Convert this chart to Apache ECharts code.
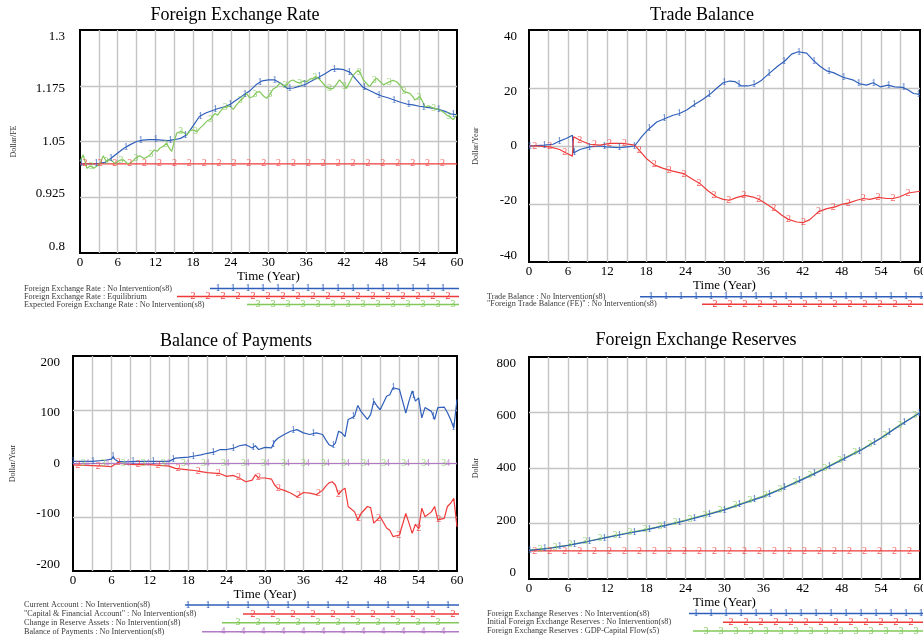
<!DOCTYPE html>
<html>
<head>
<meta charset="utf-8">
<script src="https://cdn.jsdelivr.net/npm/echarts@6/dist/echarts.min.js"></script>
<style>
html, body { margin: 0; padding: 0; background: #fff; }
#main { width: 923px; height: 640px; }
</style>
</head>
<body>
<div id="main"></div>
<script>
// ---- data ----
// Foreign Exchange Rate (Dollar/FE)
const fxYears = Array.from({length: 61}, (_, i) => i);
const fxNoIntervention = [1.000,1.000,1.000,1.001,1.003,1.013,1.024,1.035,1.043,1.050,
    1.053,1.054,1.054,1.053,1.052,1.054,1.057,1.065,1.085,1.106,
    1.114,1.119,1.124,1.128,1.134,1.144,1.154,1.163,1.177,1.186,
    1.188,1.188,1.180,1.169,1.170,1.174,1.179,1.187,1.194,1.202,
    1.211,1.213,1.211,1.205,1.188,1.172,1.165,1.158,1.152,1.148,
    1.143,1.138,1.134,1.132,1.129,1.127,1.125,1.122,1.118,1.112,1.110];
const fxEqTime = [0, 60];
const fxEquilibrium = [1.0, 1.0];
const fxExpTime = [0,0.5,1.1,1.6,2.2,3.2,3.7,4.2,4.8,5.6,6.3,6.9,7.6,8.2,8.8,9.5,10.2,10.8,11.3,11.8,
    12.3,12.7,13.3,13.8,14.2,14.6,15,15.4,16,16.5,17,17.5,18,18.6,19.1,19.5,19.9,20.3,20.7,21.1,
    21.5,21.9,22.3,22.8,23.3,23.8,24.4,24.9,25.4,26,26.5,27,27.6,28.1,28.6,29.2,29.7,30.2,30.7,31.3,
    31.8,32.4,32.9,33.4,33.9,34.5,35,35.6,36.1,36.6,37.1,37.7,38.2,38.7,39.2,39.8,40.3,40.8,41.3,41.9,
    42.4,43,43.5,43.9,44.3,44.7,45.1,45.6,46.1,46.6,47.2,47.7,48.3,48.8,49.3,49.8,50.4,51,51.5,52,
    52.5,53,53.3,53.7,54.1,54.5,54.9,55.5,56.2,56.7,57.2,57.8,58.3,58.9,59.4,59.7,60];
const fxExpected = [1.005,1.02,0.99,0.995,0.99,1.0,1.018,1.005,1.01,1.0,1.008,1.009,1.0,1.003,1.012,1.018,1.012,1.016,1.022,1.031,
    1.028,1.035,1.04,1.046,1.035,1.028,1.05,1.069,1.072,1.07,1.065,1.074,1.076,1.072,1.08,1.085,1.091,1.097,1.099,1.106,
    1.113,1.109,1.117,1.126,1.127,1.13,1.122,1.132,1.14,1.148,1.158,1.148,1.151,1.16,1.162,1.152,1.147,1.155,1.167,1.172,
    1.181,1.175,1.177,1.185,1.188,1.183,1.181,1.186,1.184,1.19,1.192,1.195,1.188,1.18,1.172,1.168,1.169,1.178,1.188,1.178,
    1.169,1.185,1.199,1.205,1.21,1.2,1.188,1.18,1.173,1.183,1.192,1.185,1.177,1.181,1.184,1.187,1.184,1.175,1.162,1.16,
    1.158,1.15,1.143,1.147,1.151,1.14,1.128,1.13,1.125,1.124,1.121,1.116,1.11,1.105,1.099,1.102,1.11];

// Trade Balance (Dollar/Year)
const tbTime = [0,2.4,3.7,4.7,5.7,6.65,6.85,7.8,9.3,10.9,11.9,13.9,15,16.2,17.3,18.3,19.6,20.9,22.1,23.1,
    24.2,25.4,26.7,27.8,28.8,29.8,30.8,31.6,32.6,33.6,34.7,35.7,37,38.2,39.3,40.3,41.3,42.6,43.6,44.6,
    45.7,46.7,48.2,49.8,50.8,51.8,52.8,53.9,55.1,56.1,57.4,58.2,59,60];
const tradeBalance = [0,0.3,0.6,1.7,2.6,3.7,-2.4,-1.2,-0.3,0,-0.3,-0.6,-0.3,0,3.2,5.7,8.3,9.5,10.6,11.2,
    12.4,14.3,16.1,17.9,19.9,21.8,22.4,22.2,20.7,20.7,21.3,22.7,25.3,27.6,29.4,31.7,32.5,32,29.6,27.6,
    25.9,25.3,23.7,22.7,21.4,21,21.8,20.4,21,20.4,20.2,19.3,18.1,17.8];
const ftbTime = [0,1.1,3.2,4.7,5.7,6.65,6.85,7.8,9.3,10.9,12.4,14.4,16.2,17,18,19.3,20.6,21.9,23.7,24.9,
    26.2,27.5,28.8,29.8,30.8,31.8,33.1,34.4,35.4,36.5,37.7,38.8,39.8,41.1,42.1,43.1,44.4,45.7,47,48,
    49.1,50.3,51.3,52.3,53.6,54.9,55.9,56.9,58.2,60];
const foreignTradeBalance = [0,0,-0.3,-1.2,-2.4,-3.5,3.2,2,0.6,0.3,0.9,0.9,0.3,-1.7,-4.3,-6.6,-7.7,-8.6,-9.5,-11.2,
    -12.9,-15.5,-17.6,-18.4,-18.7,-17.8,-17,-17.6,-18.5,-20.1,-21.9,-23.9,-25.3,-26.2,-26.4,-25.4,-22.7,-21.6,-21,-20.1,
    -19.6,-18.7,-18.1,-18.4,-17.7,-18.1,-18.1,-17.5,-16.2,-15.6];

// Balance of Payments (Dollar/Year)
const bopTime = [0,3,5,6,6.3,6.5,7,8,10,12,14,15,16,18,19,20,21,22,23,24,
    25,26,27,28,28.5,29,30,31,31.5,32,33,34,35,36,37,38,39,39.5,40,40.5,
    41,41.5,42,42.5,43,44,44.5,45,46,46.5,47,47.5,48,49,49.5,50,51,52,52.5,53,
    53.5,54,54.5,55,56,56.5,57,58,58.5,59,59.5,60];
const currentAccount = [4,4,6,8,13,8,4,3,4,4,4,4,10,12,14,16,19,21,26,26,
    28,33,35,29,33,26,30,29,41,47,54,60,63,57,54,57,54,44,35,32,
    38,60,57,50,82,88,108,97,82,91,116,107,100,125,128,141,138,94,116,135,
    116,122,85,104,97,82,104,105,95,82,66,119];
const capitalAccount = [-2.5,-4,-5,-6,-6,-2,2,-1,-2,-2,-4,-5,-9,-12,-13,-15,-17,-18,-19,-24,
    -22,-27,-34,-31,-21,-27,-27,-29,-40,-46,-50,-55,-62,-54,-55,-58,-50,-42,-36,-34,
    -40,-58,-50,-46,-80,-90,-105,-93,-80,-82,-111,-105,-99,-120,-124,-136,-133,-93,-111,-130,
    -113,-121,-83,-99,-90,-80,-105,-102,-80,-74,-65,-118];
const flatTime = [0, 15, 30, 45, 60];
const reserveChange = [0, 0, 0, 0, 0];
const balanceOfPayments = [0, 0, 0, 0, 0];

// Foreign Exchange Reserves (Dollar)
const resTime = [0,3,6,9,12,15,18,21,24,27,30,33,36,39,42,45,48,51,54,57,60];
const reservesNoInt = [103,110,121,135,150,164,177,193,210,229,249,273,297,327,359,393,429,465,507,555,599];
const reservesGdp = [104,111,122,136,151,165,179,194,212,231,251,275,300,329,361,395,431,467,509,557,600];
const initResTime = [0, 60];
const initialReserves = [101, 101];

// ---- styling ----
const FONT = "'Liberation Serif', 'Times New Roman', serif";
const BLUE = '#2f5fba', RED = '#f03a3a', GREEN = '#82c85a', PURPLE = '#b27ac6';
const GRIDLINE = '#c4c4c4';

const grids = [
    {left: 80, top: 30, width: 377, height: 223},
    {left: 529, top: 30, width: 391, height: 232},
    {left: 73, top: 356, width: 384, height: 215},
    {left: 529, top: 357, width: 391, height: 222}
];

function interp(ts, vs, t) {
    for (let i = 0; i < ts.length - 1; i++) {
        if (t <= ts[i + 1]) {
            return vs[i] + (vs[i + 1] - vs[i]) * (t - ts[i]) / (ts[i + 1] - ts[i]);
        }
    }
    return vs[vs.length - 1];
}

function yRich(n) {
    // vensim pushes the end labels inside the frame
    const rich = {};
    for (let i = 0; i < n; i++) {
        const off = 6.5 * (2 * i / (n - 1) - 1);
        rich['t' + i] = {
            fontFamily: FONT, fontSize: 13, color: '#000',
            padding: off > 0 ? [2 * off, 0, 0, 0] : [0, 0, -2 * off, 0]
        };
    }
    return rich;
}

function xAxisFor(i, nameGap) {
    return {
        type: 'value', gridIndex: i, min: 0, max: 60, interval: 3,
        name: 'Time (Year)', nameLocation: 'middle', nameGap: nameGap,
        nameTextStyle: {fontFamily: FONT, fontSize: 13, color: '#000'},
        axisLine: {show: false}, axisTick: {show: false},
        axisLabel: {
            margin: 3, fontFamily: FONT, fontSize: 13, color: '#000',
            formatter: v => (v % 6 === 0 ? String(v) : '')
        },
        splitLine: {show: true, showMinLine: false, showMaxLine: false, lineStyle: {color: GRIDLINE, width: 1.4}}
    };
}

function yAxisFor(i, min, max, interval, name, nameGap, margin) {
    return {
        type: 'value', gridIndex: i, min: min, max: max, interval: interval,
        name: name, nameLocation: 'middle', nameRotate: 90, nameGap: nameGap,
        nameTextStyle: {fontFamily: FONT, fontSize: 8, color: '#333'},
        axisLine: {show: false}, axisTick: {show: false},
        axisLabel: {
            margin: margin, rich: yRich(5),
            formatter: (v, idx) => '{t' + idx + '|' + v + '}'
        },
        splitLine: {show: true, showMinLine: false, showMaxLine: false, lineStyle: {color: GRIDLINE, width: 1.4}}
    };
}

const series = [];

function addLine(g, ts, vs, color, digit, m0, step, z) {
    z = z || 2;
    series.push({
        type: 'line', xAxisIndex: g, yAxisIndex: g,
        data: ts.map((t, i) => [t, vs[i]]),
        showSymbol: false, symbol: 'none', smooth: false,
        lineStyle: {color: color, width: 1.2},
        itemStyle: {color: color},
        silent: true, z: z
    });
    const marks = [];
    for (let t = m0; t <= 60.001; t += step) marks.push([t, interp(ts, vs, t)]);
    series.push({
        type: 'scatter', xAxisIndex: g, yAxisIndex: g, data: marks,
        symbolSize: 1, itemStyle: {color: 'rgba(0,0,0,0)'},
        label: {show: true, position: 'inside', formatter: digit, color: color, fontFamily: FONT, fontSize: 10},
        silent: true, z: z + 2
    });
}

addLine(0, fxYears, fxNoIntervention, BLUE, '1', 0.2, 2.37);
addLine(0, fxEqTime, fxEquilibrium, RED, '2', 0.8, 2.37);
addLine(0, fxExpTime, fxExpected, GREEN, '3', 1.8, 2.37);

addLine(1, tbTime, tradeBalance, BLUE, '1', 0.1, 2.296);
addLine(1, ftbTime, foreignTradeBalance, RED, '2', 0.9, 2.29);

addLine(2, bopTime, currentAccount, BLUE, '1', 0.0, 3.13);
addLine(2, bopTime, capitalAccount, RED, '2', 0.8, 3.13);
addLine(2, flatTime, reserveChange, GREEN, '3', 1.6, 3.13);
addLine(2, flatTime, balanceOfPayments, PURPLE, '4', 2.2, 3.13);

// the blue reserves curve sits over the nearly identical green one
addLine(3, resTime, reservesNoInt, BLUE, '1', 0.1, 2.3, 3);
addLine(3, initResTime, initialReserves, RED, '2', 0.87, 2.3);
addLine(3, resTime, reservesGdp, GREEN, '3', 1.7, 2.3);

// ---- titles and vensim-style legends ----
const graphics = [];
function titleText(x, y, text) {
    graphics.push({
        type: 'text', x: x, y: y, silent: true,
        style: {text: text, font: '18px ' + FONT, fill: '#000',
            align: 'center', verticalAlign: 'middle', textAlign: 'center', textVerticalAlign: 'middle'}
    });
}
titleText(235, 15, 'Foreign Exchange Rate');
titleText(702, 15, 'Trade Balance');
titleText(236, 341, 'Balance of Payments');
titleText(696, 340, 'Foreign Exchange Reserves');

function legendRows(textX, x1, step, rows) {
    rows.forEach(r => {
        graphics.push({
            type: 'text', x: textX, y: r.y, silent: true,
            style: {text: r.label, font: '8.2px ' + FONT, fill: '#3a3a3a',
                align: 'left', verticalAlign: 'middle', textAlign: 'left', textVerticalAlign: 'middle'}
        });
        graphics.push({
            type: 'line', silent: true,
            shape: {x1: r.x0, y1: r.y, x2: x1, y2: r.y},
            style: {stroke: r.color, lineWidth: 1.4}
        });
        for (let m = r.m0; m <= x1 - 2; m += step) {
            graphics.push({
                type: 'text', x: m, y: r.y, silent: true,
                style: {text: r.digit, font: '10px ' + FONT, fill: r.color,
                    align: 'center', verticalAlign: 'middle', textAlign: 'center', textVerticalAlign: 'middle'}
            });
        }
    });
}

legendRows(24, 459, 15, [
    {y: 288.5, label: 'Foreign Exchange Rate : No Intervention(s8)', color: BLUE, x0: 210, m0: 218, digit: '1'},
    {y: 296.5, label: 'Foreign Exchange Rate : Equilibrium', color: RED, x0: 177, m0: 193, digit: '2'},
    {y: 304.5, label: 'Expected Foreign Exchange Rate : No Intervention(s8)', color: GREEN, x0: 247, m0: 258, digit: '3'}
]);
legendRows(487, 923, 15, [
    {y: 296.7, label: 'Trade Balance : No Intervention(s8)', color: BLUE, x0: 640, m0: 651, digit: '1'},
    {y: 304.3, label: '"Foreign Trade Balance (FE)" : No Intervention(s8)', color: RED, x0: 702, m0: 715, digit: '2'}
]);
legendRows(24, 459, 20, [
    {y: 605, label: 'Current Account : No Intervention(s8)', color: BLUE, x0: 185, m0: 188, digit: '1'},
    {y: 614, label: '"Capital & Financial Account" : No Intervention(s8)', color: RED, x0: 243, m0: 253, digit: '2'},
    {y: 622.7, label: 'Change in Reserve Assets : No Intervention(s8)', color: GREEN, x0: 222, m0: 238, digit: '3'},
    {y: 631.7, label: 'Balance of Payments : No Intervention(s8)', color: PURPLE, x0: 202, m0: 223, digit: '4'}
]);
legendRows(487, 923, 15, [
    {y: 613.5, label: 'Foreign Exchange Reserves : No Intervention(s8)', color: BLUE, x0: 689, m0: 696, digit: '1'},
    {y: 622.3, label: 'Initial Foreign Exchange Reserves : No Intervention(s8)', color: RED, x0: 723, m0: 731, digit: '2'},
    {y: 631, label: 'Foreign Exchange Reserves : GDP-Capital Flow(s5)', color: GREEN, x0: 693, m0: 706, digit: '3'}
]);

const myChart = echarts.init(document.getElementById('main'));
myChart.setOption({
    animation: false,
    backgroundColor: '#fff',
    grid: grids.map(g => Object.assign({
        show: true, borderColor: '#000', borderWidth: 2, backgroundColor: 'transparent',
        containLabel: false, outerBoundsMode: 'none'
    }, g)),
    xAxis: [xAxisFor(0, 16), xAxisFor(1, 15), xAxisFor(2, 17), xAxisFor(3, 16)],
    yAxis: [
        yAxisFor(0, 0.8, 1.3, 0.125, 'Dollar/FE', 62, 15),
        yAxisFor(1, -40, 40, 20, 'Dollar/Year', 49, 12),
        yAxisFor(2, -200, 200, 100, 'Dollar/Year', 56, 13),
        yAxisFor(3, 0, 800, 200, 'Dollar', 49, 13)
    ],
    series: series,
    graphic: {elements: graphics}
});
</script>
</body>
</html>
